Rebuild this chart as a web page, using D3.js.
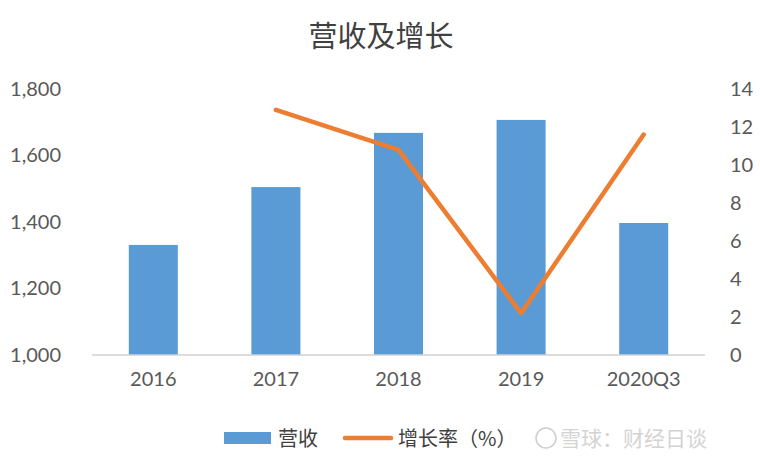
<!DOCTYPE html>
<html lang="zh">
<head>
<meta charset="UTF-8">
<title>营收及增长</title>
<style>
  body { margin: 0; padding: 0; background: #fff; }
  svg { display: block; }
  .tick text { font-family: Lato, "Noto Sans CJK SC", sans-serif; font-size: 20px; fill: #595959; }
  .cn { font-family: "Noto Sans CJK SC", sans-serif; }
</style>
</head>
<body>
<svg id="chart" width="760" height="466"></svg>
<script src="https://cdnjs.cloudflare.com/ajax/libs/d3/7.9.0/d3.min.js"></script>
<script>
// data
const categories = ['2016', '2017', '2018', '2019', '2020Q3'];
const revenue = [1331, 1505, 1668, 1707, 1397];
const growth = [null, 12.9, 10.8, 2.2, 11.6];
const leftTicks = [1000, 1200, 1400, 1600, 1800];
const rightTicks = [0, 2, 4, 6, 8, 10, 12, 14];

const blue = '#5B9BD5';
const orange = '#ED7D31';

const svg = d3.select('#chart');
const margin = { left: 92, right: 55, top: 89, bottom: 111 };
const width = 760, height = 466;
const plotW = width - margin.left - margin.right;
const baseY = height - margin.bottom;

const x = d3.scaleBand()
  .domain(categories)
  .range([margin.left, margin.left + plotW])
  .paddingInner(0.6)
  .paddingOuter(0.3);

const yL = d3.scaleLinear().domain([1000, 1800]).range([baseY, margin.top]);
const yR = d3.scaleLinear().domain([0, 14]).range([baseY, margin.top]);

// title
svg.append('text')
  .attr('class', 'cn')
  .attr('x', 381).attr('y', 47)
  .attr('text-anchor', 'middle')
  .attr('font-size', 29)
  .attr('fill', '#404040')
  .text('营收及增长');

// bars
svg.append('g').selectAll('rect')
  .data(categories)
  .enter().append('rect')
  .attr('x', d => x(d))
  .attr('width', x.bandwidth())
  .attr('y', (d, i) => yL(revenue[i]))
  .attr('height', (d, i) => baseY - yL(revenue[i]))
  .attr('fill', blue);

// baseline
svg.append('line')
  .attr('x1', margin.left).attr('x2', margin.left + plotW)
  .attr('y1', baseY).attr('y2', baseY)
  .attr('stroke', '#d0d0d0').attr('stroke-width', 1.5);

// left axis
const gL = svg.append('g')
  .attr('transform', `translate(${margin.left - 28},0)`)
  .call(d3.axisLeft(yL).tickValues(leftTicks).tickSize(0).tickFormat(d3.format(',')));
gL.select('.domain').remove();

// right axis
const gR = svg.append('g')
  .attr('transform', `translate(${margin.left + plotW + 22},0)`)
  .call(d3.axisRight(yR).tickValues(rightTicks).tickSize(0));
gR.select('.domain').remove();

// x axis
const gX = svg.append('g')
  .attr('transform', `translate(0,${baseY + 14})`)
  .call(d3.axisBottom(x).tickSize(0));
gX.select('.domain').remove();

// growth line
const line = d3.line()
  .defined(d => d.v != null)
  .x(d => x(d.c) + x.bandwidth() / 2)
  .y(d => yR(d.v));

svg.append('path')
  .datum(categories.map((c, i) => ({ c: c, v: growth[i] })))
  .attr('d', line)
  .attr('fill', 'none')
  .attr('stroke', orange)
  .attr('stroke-width', 4.5)
  .attr('stroke-linejoin', 'round')
  .attr('stroke-linecap', 'round');

// legend
const lg = svg.append('g');
lg.append('rect')
  .attr('x', 224).attr('y', 432).attr('width', 47).attr('height', 12)
  .attr('fill', blue);
lg.append('text')
  .attr('class', 'cn')
  .attr('x', 278).attr('y', 446)
  .attr('font-size', 20).attr('fill', '#404040')
  .text('营收');
lg.append('line')
  .attr('x1', 345).attr('x2', 391).attr('y1', 438).attr('y2', 438)
  .attr('stroke', orange).attr('stroke-width', 4.5)
  .attr('stroke-linecap', 'round');
lg.append('text')
  .attr('class', 'cn')
  .attr('x', 398).attr('y', 446)
  .attr('font-size', 20).attr('fill', '#404040')
  .text('增长率（%）');

// watermark
const wm = svg.append('g').attr('opacity', 0.9);
wm.append('circle')
  .attr('cx', 546).attr('cy', 438).attr('r', 10)
  .attr('fill', 'none').attr('stroke', '#c8c8c8').attr('stroke-width', 1.5);
wm.append('text')
  .attr('class', 'cn')
  .attr('x', 560).attr('y', 446)
  .attr('font-size', 21).attr('fill', '#cfcfcf')
  .text('雪球：财经日谈');
</script>
</body>
</html>
